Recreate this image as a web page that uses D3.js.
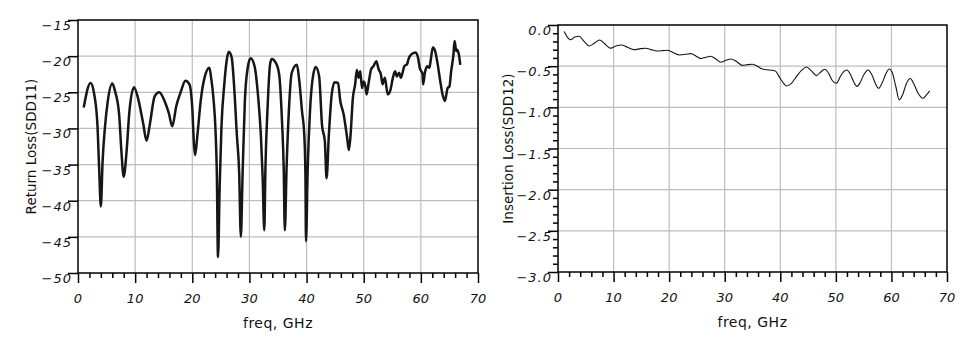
<!DOCTYPE html>
<html>
<head>
<meta charset="utf-8">
<script src="https://cdn.jsdelivr.net/npm/d3@7"></script>
<style>
  body { margin: 0; background: #fff; }
  svg { display: block; }
  text { font-family: "Comic Sans MS", "DejaVu Sans", sans-serif; fill: #111; }
</style>
</head>
<body>
<div id="chart"></div>
<script>
// Return loss SDD11 (dB) vs freq (GHz)
const rlFreq = [1.0, 2.2, 2.8, 3.4, 3.7, 4.0, 4.3, 4.7, 5.2, 6.0, 6.5, 7.2, 7.6, 8.0, 8.5, 9.0, 9.8,
  10.5, 11.4, 12.0, 12.6, 13.4, 14.2, 15.2, 15.9, 16.5, 17.2, 18.0, 18.8, 19.5, 20.0, 20.3, 20.5, 20.9,
  21.5, 22.2, 23.0, 23.3, 23.7, 24.1, 24.3, 24.5, 24.8, 25.1, 25.6, 26.0, 26.4, 26.9, 27.3, 27.8, 28.2,
  28.5, 28.8, 29.2, 29.7, 30.2, 30.9, 31.5, 32.0, 32.3, 32.6, 32.8, 33.2, 33.6, 33.9, 34.6, 35.2, 35.7,
  36.0, 36.2, 36.5, 36.9, 37.4, 38.3, 38.7, 39.2, 39.6, 39.8, 39.9, 40.2, 40.6, 41.0, 41.6, 42.2, 42.7,
  43.2, 43.5, 43.9, 44.4, 44.9, 45.5, 45.9, 46.5, 47.1, 47.4, 47.7, 48.1, 48.5, 48.8, 49.1, 49.4, 49.7,
  50.0, 50.3, 50.5, 50.9, 51.3, 51.7, 52.2, 52.6, 53.0, 53.3, 53.7, 54.2, 54.7, 55.1, 55.5, 55.8, 56.2,
  56.5, 56.8, 57.1, 57.6, 57.8, 58.4, 59.1, 59.5, 59.8, 60.3, 60.4, 60.7, 61.1, 61.5, 61.7, 62.1, 62.5,
  62.9, 63.4, 63.8, 64.2, 64.7, 65.0, 65.3, 65.7, 65.9, 66.2, 66.4, 66.7, 66.9];
const rlValues = [-27.1, -23.7, -25.1, -29.5, -35.5, -40.8, -34.6, -30.0, -26.3, -23.8, -24.9, -28.1,
  -33.2, -36.7, -33.2, -27.6, -24.3, -25.8, -29.3, -31.7, -29.3, -25.6, -25.0, -26.3, -27.9, -29.7,
  -26.9, -24.9, -23.4, -23.9, -27.2, -32.3, -33.7, -30.9, -26.0, -22.8, -21.6, -23.0, -25.8, -30.9,
  -36.4, -47.8, -37.8, -29.9, -23.9, -20.7, -19.4, -20.2, -23.9, -30.9, -36.0, -45.0, -36.4, -26.2,
  -21.6, -20.3, -21.4, -25.4, -30.9, -36.4, -44.1, -35.5, -26.7, -21.2, -20.4, -20.9, -22.5, -29.0,
  -35.5, -44.1, -35.5, -27.6, -22.3, -21.2, -23.2, -27.6, -30.9, -36.4, -45.6, -35.5, -27.6, -23.5,
  -21.5, -22.8, -29.5, -31.8, -36.9, -30.9, -25.3, -23.6, -23.7, -26.2, -28.1, -31.3, -33.0, -30.9,
  -25.8, -23.9, -21.9, -23.0, -22.1, -24.4, -23.5, -24.2, -25.3, -23.5, -21.8, -21.4, -20.7, -21.8,
  -22.5, -23.9, -23.0, -25.3, -24.6, -23.0, -22.1, -22.8, -22.3, -23.0, -22.3, -21.4, -21.1, -20.5,
  -19.7, -19.5, -20.2, -21.6, -22.5, -23.9, -22.3, -21.4, -21.6, -20.7, -18.8, -19.3, -20.9, -23.5,
  -25.3, -26.2, -24.4, -24.2, -22.1, -19.8, -17.9, -19.3, -19.1, -20.0, -21.2];

// Insertion loss SDD12 (dB) vs freq (GHz)
const ilFreq = [1.1, 1.7, 2.3, 3.0, 3.8, 4.7, 5.6, 6.5, 7.5, 8.3, 9.5, 10.4, 11.4, 12.5, 13.7, 14.9,
  15.8, 16.7, 17.9, 18.8, 19.7, 20.7, 21.9, 23.0, 23.9, 24.8, 25.7, 26.6, 27.5, 28.4, 29.3, 30.2, 31.1,
  32.0, 33.2, 34.1, 35.0, 35.7, 36.8, 38.0, 39.1, 39.9, 40.6, 41.1, 41.9, 42.9, 43.9, 44.7, 45.6, 46.5,
  47.2, 48.0, 48.7, 49.3, 50.1, 50.8, 51.4, 52.0, 52.6, 53.2, 53.8, 54.4, 55.0, 55.8, 56.5, 57.1, 57.7,
  58.3, 58.9, 59.6, 60.1, 60.8, 61.4, 62.0, 62.7, 63.4, 64.0, 64.8, 65.7, 66.3, 66.9];
const ilValues = [-0.08, -0.15, -0.18, -0.145, -0.137, -0.2, -0.255, -0.222, -0.182, -0.222, -0.283,
  -0.255, -0.242, -0.271, -0.299, -0.287, -0.283, -0.299, -0.315, -0.311, -0.307, -0.335, -0.364,
  -0.356, -0.348, -0.376, -0.408, -0.392, -0.38, -0.413, -0.453, -0.429, -0.413, -0.437, -0.49, -0.481,
  -0.477, -0.494, -0.534, -0.546, -0.558, -0.639, -0.708, -0.74, -0.716, -0.627, -0.546, -0.51, -0.558,
  -0.615, -0.575, -0.538, -0.587, -0.668, -0.708, -0.627, -0.567, -0.546, -0.599, -0.688, -0.745,
  -0.696, -0.607, -0.546, -0.607, -0.708, -0.769, -0.708, -0.607, -0.534, -0.567, -0.75, -0.91, -0.85,
  -0.71, -0.65, -0.71, -0.83, -0.89, -0.85, -0.80];

const xTicks = [0, 10, 20, 30, 40, 50, 60, 70];
const rlTicks = [-50, -45, -40, -35, -30, -25, -20, -15];
const ilTicks = [-3.0, -2.5, -2.0, -1.5, -1.0, -0.5, 0.0];

const svg = d3.select("#chart").append("svg")
    .attr("width", 976)
    .attr("height", 354);

function drawPanel(p) {
    const x = d3.scaleLinear().domain([0, 70]).range([p.left, p.right]);
    const y = d3.scaleLinear().domain(p.yDomain).range([p.bottom, p.top]);
    const g = svg.append("g");

    // grid
    g.append("g").selectAll("line")
        .data(xTicks.slice(1, -1))
        .enter().append("line")
        .attr("x1", d => x(d)).attr("x2", d => x(d))
        .attr("y1", p.top).attr("y2", p.bottom)
        .attr("stroke", "#bdbdbd").attr("stroke-width", 1.2);
    g.append("g").selectAll("line")
        .data(p.yTicks.slice(1, -1))
        .enter().append("line")
        .attr("x1", p.left).attr("x2", p.right)
        .attr("y1", d => y(d)).attr("y2", d => y(d))
        .attr("stroke", "#bdbdbd").attr("stroke-width", 1.2);

    // frame
    g.append("rect")
        .attr("x", p.left).attr("y", p.top)
        .attr("width", p.right - p.left).attr("height", p.bottom - p.top)
        .attr("fill", "none").attr("stroke", "#000").attr("stroke-width", 1.5);

    // x axis, major + minor ticks
    const xAxis = d3.axisBottom(x).tickValues(xTicks).tickSize(10).tickFormat("");
    g.append("g").attr("transform", `translate(0,${p.bottom})`).call(xAxis)
        .call(a => a.select(".domain").remove())
        .selectAll("line").attr("stroke", "#000").attr("stroke-width", 1.5);
    const xMinor = d3.axisBottom(x).tickValues(d3.range(0, 71, 2).filter(d => d % 10)).tickSize(5).tickFormat("");
    g.append("g").attr("transform", `translate(0,${p.bottom})`).call(xMinor)
        .call(a => a.select(".domain").remove())
        .selectAll("line").attr("stroke", "#000").attr("stroke-width", 1.5);
    g.append("g").selectAll("text")
        .data(xTicks)
        .enter().append("text")
        .attr("x", d => x(d)).attr("y", p.bottom + 30)
        .attr("text-anchor", "middle")
        .style("font-size", "13px").style("font-style", "italic")
        .text(d => d);

    // y axis
    const yAxis = d3.axisLeft(y).tickValues(p.yTicks).tickSize(10).tickFormat("");
    g.append("g").attr("transform", `translate(${p.left},0)`).call(yAxis)
        .call(a => a.select(".domain").remove())
        .selectAll("line").attr("stroke", "#000").attr("stroke-width", 1.5);
    if (p.yMinor) {
        const yMinorAxis = d3.axisLeft(y).tickValues(p.yMinor).tickSize(5).tickFormat("");
        g.append("g").attr("transform", `translate(${p.left},0)`).call(yMinorAxis)
            .call(a => a.select(".domain").remove())
            .selectAll("line").attr("stroke", "#000").attr("stroke-width", 1.5);
    }
    g.append("g").selectAll("text")
        .data(p.yTicks)
        .enter().append("text")
        .attr("x", p.left - 6).attr("y", d => y(d) + 10)
        .attr("text-anchor", "end")
        .style("font-size", "13px").style("font-style", "italic").style("letter-spacing", "1px")
        .text(p.fmt);

    // labels
    g.append("text")
        .attr("x", (p.left + p.right) / 2).attr("y", p.bottom + 55)
        .attr("text-anchor", "middle")
        .style("font-size", "14px").style("letter-spacing", "0.5px")
        .text("freq, GHz");
    g.append("text")
        .attr("transform", `translate(${p.labelX},${(p.top + p.bottom) / 2}) rotate(-90)`)
        .attr("text-anchor", "middle")
        .style("font-size", "13.5px")
        .text(p.label);

    // curve
    const line = d3.line()
        .curve(d3.curveMonotoneX)
        .x(d => x(d[0]))
        .y(d => y(d[1]));
    g.append("path")
        .datum(d3.zip(p.freq, p.values))
        .attr("d", line)
        .attr("fill", "none")
        .attr("stroke", "#161616")
        .attr("stroke-width", p.lineWidth)
        .attr("stroke-linejoin", "round");
}

drawPanel({
    left: 78, right: 478, top: 20, bottom: 273,
    yDomain: [-50, -15], yTicks: rlTicks,
    fmt: d => d3.format("d")(d).replace("-", "\u2212"),
    label: "Return Loss(SDD11)", labelX: 36,
    freq: rlFreq, values: rlValues, lineWidth: 2.5
});

drawPanel({
    left: 558, right: 947, top: 25, bottom: 272,
    yDomain: [-3, 0], yTicks: ilTicks,
    yMinor: d3.range(-29, 0).map(d => d / 10).filter(d => Math.round(d * 10) % 5 !== 0),
    fmt: d => d3.format(".1f")(d).replace("-", "\u2212"),
    label: "Insertion Loss(SDD12)", labelX: 513,
    freq: ilFreq, values: ilValues, lineWidth: 1.1
});
</script>
</body>
</html>
